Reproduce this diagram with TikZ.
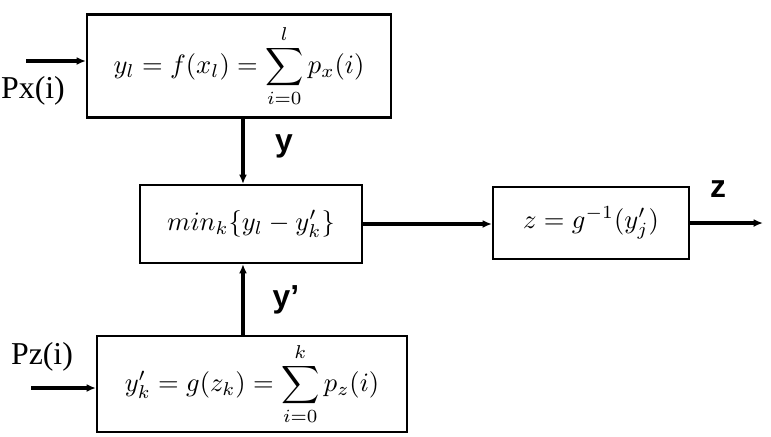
\documentclass[tikz,border=0pt]{standalone}
\usepackage{amsmath}
\usepackage{fontspec}
\newfontfamily\lblfont{Liberation Serif}
\newfontfamily\sigfont{Liberation Sans}
\usetikzlibrary{positioning, arrows.meta}

\begin{document}
\begin{tikzpicture}[x=0.377pt, y=-0.377pt,
    block/.style={draw, line width=0.8pt, inner sep=0pt},
    link/.style={line width=1.3pt, -{Latex[length=3.5pt,width=3pt]}},
    inlbl/.style={font=\lblfont\fontsize{12}{14}\selectfont},
    siglbl/.style={font=\sigfont\bfseries\fontsize{12}{14}\selectfont}]
    \useasboundingbox (0,0) rectangle (771,436);

    % blocks
    \node[block, minimum width=114.6pt, minimum height=38.8pt] (top) at (239,66)
        {$y_l = f(x_l) = \displaystyle\sum_{i=0}^{l} p_x(i)$};
    \node[block, minimum width=83.7pt, minimum height=29.4pt] (mid) at (251,224)
        {$min_k\{y_l - y'_k\}$};
    \node[block, minimum width=73.9pt, minimum height=27.1pt] (inv) at (591,223)
        {$z = g^{-1}(y'_j)$};
    \node[block, minimum width=116.9pt, minimum height=36.2pt] (bot) at (252,384)
        {$y'_k = g(z_k) = \displaystyle\sum_{i=0}^{k} p_z(i)$};

    % inputs and output
    \coordinate (pxin) at (26,61);
    \coordinate (pzin) at (31,388);
    \coordinate (zout) at (763,223);
    \draw[link] (pxin) -- (pxin -| top.west);
    \draw[link] (pzin) -- (pzin -| bot.west);
    \draw[link] ([xshift=1.5pt]top.south) -- ([xshift=1.5pt]top.south |- mid.north);
    \draw[link] ([xshift=-3.4pt]bot.north) -- ([xshift=-3.4pt]bot.north |- mid.south);
    \draw[link] (mid.east) -- (mid.east -| inv.west);
    \draw[link] (inv.east) -- (zout);

    % labels
    \node[inlbl] (pxlbl) at (33,91) {Px(i)};
    \node[inlbl] (pzlbl) at (42,357) {Pz(i)};
    \node[siglbl] (ylbl) at (284,146) {y};
    \node[siglbl] (yplbl) at (286,300) {y’};
    \node[siglbl] (zlbl) at (718,189) {z};
\end{tikzpicture}
\end{document}
